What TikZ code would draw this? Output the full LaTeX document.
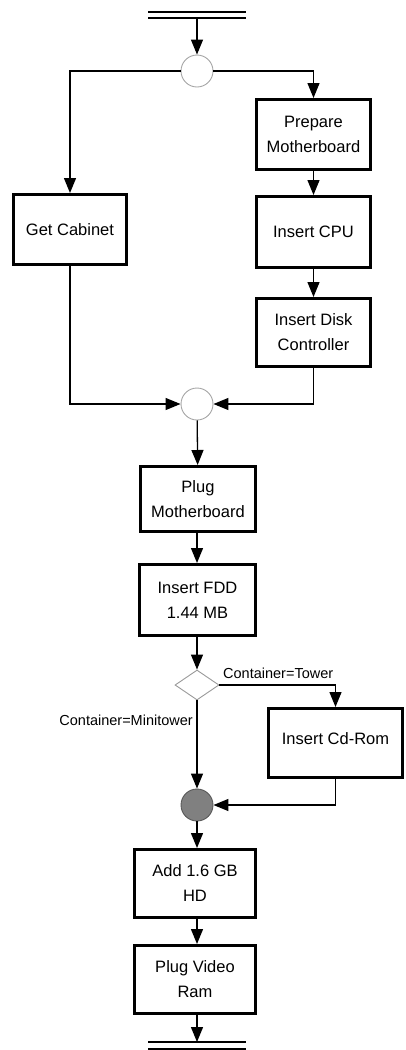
\documentclass[tikz,border=0pt]{standalone}
\usepackage{fontspec}
\setmainfont{Liberation Sans}
\usetikzlibrary{arrows.meta,shapes.geometric}
\begin{document}
\begin{tikzpicture}[x=1pt,y=-1pt,
  task/.style={draw,line width=3pt,inner sep=0pt,align=center,
    font=\fontsize{16.5}{25}\selectfont},
  junction/.style={circle,draw=gray!70,line width=0.9pt,minimum size=32pt,inner sep=0pt,fill=white},
  sync/.style={circle,draw=black!65,line width=0.9pt,minimum size=32pt,inner sep=0pt,fill=black!50},
  choice/.style={diamond,draw=gray!80,line width=0.9pt,minimum width=44pt,minimum height=30pt,inner sep=0pt,aspect=1.45},
  flow/.style={line width=1.3pt,-{Triangle[length=15pt,width=12pt]}},
  guard/.style={font=\fontsize{14.5}{16}\selectfont,inner sep=0pt},
  bar/.style={line width=1.4pt}]
\useasboundingbox (0,0) rectangle (406,1050);

% start bar
\coordinate (sl) at (148,12); \coordinate (sr) at (246,12);
\coordinate (sl2) at (148,18); \coordinate (sr2) at (246,18);
\coordinate (start) at (197,18);
\draw[bar] (sl) -- (sr);
\draw[bar] (sl2) -- (sr2);

% nodes
\node[junction] (fork) at (197,71) {};
\node[task,minimum width=113pt,minimum height=70pt] (cab) at (70,229.5) {Get Cabinet};
\node[task,minimum width=114pt,minimum height=70pt] (prep) at (313.5,134.5) {Prepare\\Motherboard};
\node[task,minimum width=114pt,minimum height=71pt] (cpu) at (313.5,232) {Insert CPU};
\node[task,minimum width=114pt,minimum height=68pt] (disk) at (313.5,332.5) {Insert Disk\\Controller};
\node[junction] (join) at (197,404) {};
\node[task,minimum width=115pt,minimum height=65pt] (plugmb) at (198,499) {Plug\\Motherboard};
\node[task,minimum width=116pt,minimum height=71pt] (fdd) at (197.5,600) {Insert FDD\\1.44 MB};
\node[choice] (dec) at (197,685) {};
\node[task,minimum width=134pt,minimum height=69pt] (cdrom) at (335.5,743) {\raisebox{9pt}{Insert Cd-Rom}};
\node[sync] (merge) at (197,805) {};
\node[task,minimum width=121pt,minimum height=68pt] (hd) at (195,883.5) {Add 1.6 GB\\HD};
\node[task,minimum width=121pt,minimum height=68pt] (ram) at (195,979.5) {Plug Video\\Ram};

% end bar
\coordinate (el) at (148,1042); \coordinate (er) at (246,1042);
\coordinate (el2) at (148,1049); \coordinate (er2) at (246,1049);
\coordinate (stop) at (197,1042);
\draw[bar] (el) -- (er);
\draw[bar] (el2) -- (er2);

% connectors
\draw[flow] (start) -- (fork);
\draw[flow] (fork.west) -| (cab.north);
\draw[flow] (fork.east) -| (prep.north);
\draw[flow] (prep) -- (cpu);
\draw[flow] (cpu) -- (disk);
\draw[flow] (cab.south) |- (join.west);
\draw[flow] (disk.south) |- (join.east);
\draw[flow] (join) -- (plugmb);
\draw[flow] (plugmb.south -| join.south) -- (fdd.north -| join.south);
\draw[flow] (fdd.south -| dec.north) -- (dec.north);
\draw[flow] (dec.east) -| (cdrom.north);
\draw[flow] (dec.south) -- (merge.north);
\draw[flow] (cdrom.south) |- (merge.east);
\draw[flow] (merge.south) -- (hd.north -| merge.south);
\draw[flow] (hd.south -| merge.south) -- (ram.north -| merge.south);
\draw[flow] (ram.south -| stop) -- (stop);

% guards
\node[guard,anchor=base west] (gtower) at (223,678) {Container=Tower};
\node[guard,anchor=east] (gmini) at (193,720) {Container=Minitower};
\end{tikzpicture}
\end{document}
